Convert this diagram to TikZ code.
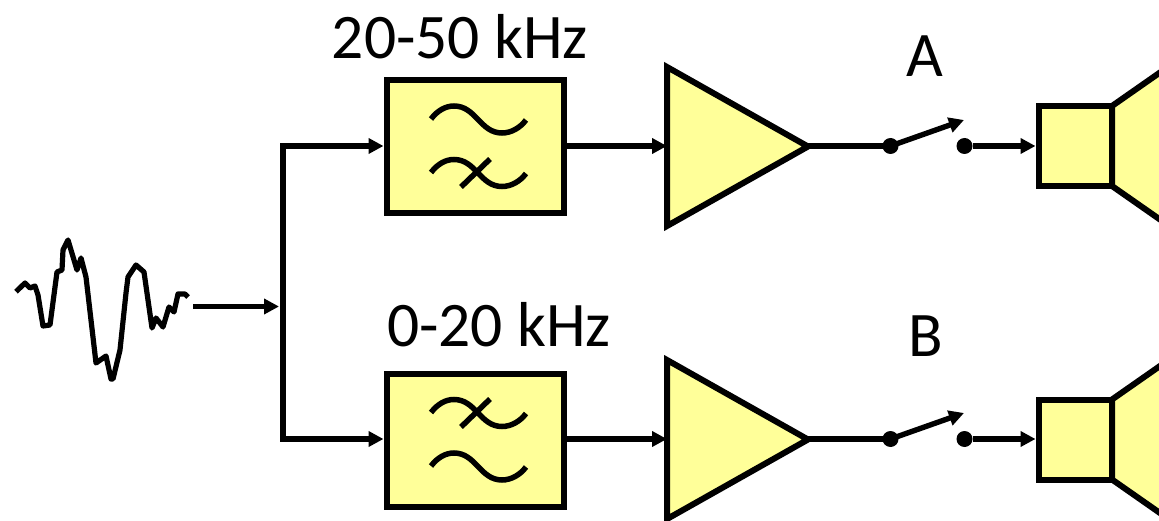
\documentclass[tikz,border=0pt]{standalone}
\usepackage{fontspec}
\setmainfont{Carlito}
\usetikzlibrary{arrows.meta}
\definecolor{fillyellow}{HTML}{FFFF99}
\tikzset{
  wire/.style={line width=5.4pt},
  arrowwire/.style={line width=5.4pt,-{Triangle[length=15pt,width=15pt]}},
  outline/.style={line width=6pt,draw=black,fill=fillyellow,line join=miter},
  filterbox/.style={outline,rectangle,minimum width=177.5pt,minimum height=133pt,inner sep=0pt,outer sep=3pt},
  speakerbox/.style={outline,rectangle,minimum width=73.5pt,minimum height=80pt,inner sep=0pt,outer sep=3pt},
  dotnode/.style={circle,fill=black,minimum size=16pt,inner sep=0pt,outer sep=0pt},
  glyph/.style={line width=5.5pt,line cap=butt},
  label/.style={font=\fontsize{63.5}{63.5}\selectfont,inner sep=0pt,text=black},
}
\newcommand{\tildeglyph}[1]{%
  \draw[glyph,shift={(0,#1)}] (431,119) .. controls (438,110) and (446,106) .. (454,106)
    .. controls (476,106) and (480,133) .. (502,133)
    .. controls (511,133) and (520,128) .. (526,120);}
\begin{document}
\begin{tikzpicture}[x=1pt,y=-1pt]
\useasboundingbox (0,0) rectangle (1159,521);
\clip (0,0) rectangle (1159,521);
% waveform
\draw[line width=5.2pt,line join=round] (16,291.7) -- (25,283) -- (30,288) -- (35,286) -- (38,295) -- (43,326) -- (50,325) -- (57,272) -- (62,270) -- (63,250) -- (68,240) -- (77,270) -- (81,258) -- (86,277) -- (96,363) -- (106,356) -- (111,379) -- (113,379) -- (120,350) -- (126,293) -- (128,277) -- (136,265) -- (144,272) -- (152,328) -- (156,318) -- (163,327) -- (169,307) -- (174,312) -- (178,294) -- (185,294) -- (188,297);
% coordinates
\coordinate (in) at (193,306.5);
\coordinate (junction) at (279,306.5);
\coordinate (trunktop) at (283,146);
\coordinate (trunkbot) at (283,439);
% filters
\node[filterbox] (filtA) at (475.25,146.5) {};
\node[filterbox] (filtB) at (475.25,440) {};
\tildeglyph{0}
\tildeglyph{53.5}
\draw[glyph] (461,187) -- (490,159);
\tildeglyph{293.5}
\tildeglyph{347}
\draw[glyph] (461,427) -- (490,399);
\node[label] (labA) at (460,36.5) {20-50 kHz};
\node[label] (labB) at (499,324.5) {0-20 kHz};
% amplifiers
\draw[outline] (667,67) -- (667,226) -- (808,146.5) -- cycle;
\draw[outline] (667,360) -- (667,519) -- (808,439.5) -- cycle;
\coordinate (ampAin) at (667,146);
\coordinate (ampAout) at (808,146);
\coordinate (ampBin) at (667,439);
\coordinate (ampBout) at (808,439);
% switches
\node[dotnode] (swA1) at (890.5,146) {};
\node[dotnode] (swA2) at (964.5,146) {};
\node[dotnode] (swB1) at (890.5,439) {};
\node[dotnode] (swB2) at (964.5,439) {};
\coordinate (tipA) at (964,120);
\coordinate (tipB) at (964,413);
\node[label] (nameA) at (925,56.5) {A};
\node[label] (nameB) at (926,336.5) {B};
% speakers
\draw[outline] (1112,106) -- (1175,62) -- (1175,230) -- (1112,186) -- cycle;
\draw[outline] (1112,399.5) -- (1175,355.5) -- (1175,523.5) -- (1112,479.5) -- cycle;
\node[speakerbox] (spkA) at (1075.25,146) {};
\node[speakerbox] (spkB) at (1075.25,439.5) {};
% connectors
\draw[arrowwire] (in) -- (junction);
\draw[wire,line cap=rect] (trunktop) -- (trunkbot);
\draw[arrowwire] (trunktop) -- (filtA.west |- trunktop);
\draw[arrowwire] (trunkbot) -- (filtB.west |- trunkbot);
\draw[arrowwire] (filtA.east |- ampAin) -- (ampAin);
\draw[arrowwire] (filtB.east |- ampBin) -- (ampBin);
\draw[wire] (ampAout) -- (swA1);
\draw[wire] (ampBout) -- (swB1);
\draw[arrowwire] (swA1.center) -- (tipA);
\draw[arrowwire] (swB1.center) -- (tipB);
\draw[arrowwire] (swA2) -- (spkA.west);
\draw[arrowwire] (swB2) -- (spkB.west |- swB2);
\end{tikzpicture}
\end{document}
